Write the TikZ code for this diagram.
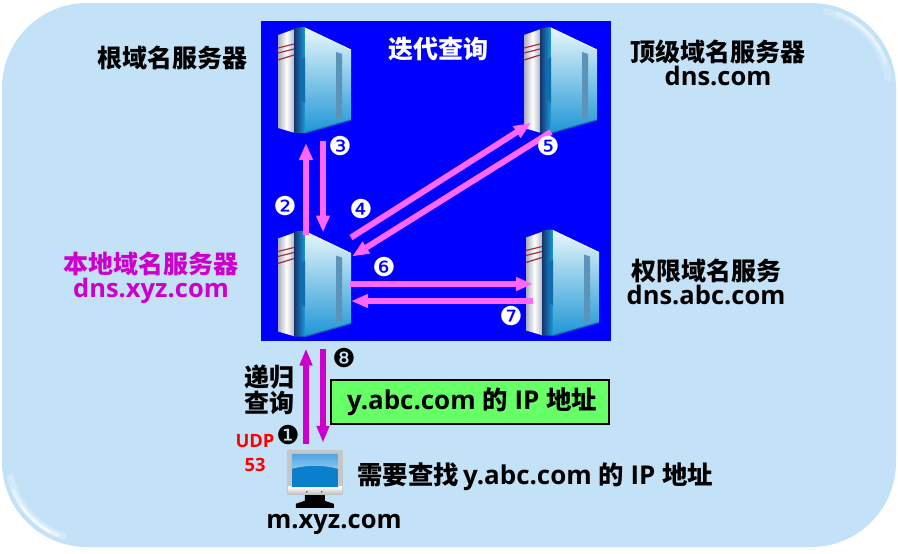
\documentclass[tikz,border=0pt]{standalone}
\usepackage{fontspec}
\setmainfont{Open Sans}[Scale=1.02]
\newfontfamily\cjk{Noto Sans CJK SC}
\newfontfamily\dingfont{DejaVu Sans}
\usetikzlibrary{arrows.meta,calc}
\definecolor{panel}{HTML}{C3E2F8}
\definecolor{pinkarrow}{HTML}{FF66FF}
\definecolor{purplearrow}{HTML}{CC00CC}
\definecolor{greenbox}{HTML}{66FF66}
\definecolor{srvA}{HTML}{E8F7FC}
\definecolor{srvB}{HTML}{8CD2EE}
\definecolor{srvC}{HTML}{1E96D6}
\definecolor{srvD}{HTML}{12336F}
\definecolor{srvE}{HTML}{1C9AD8}
\definecolor{srvF}{HTML}{0F6DAE}
\definecolor{srvG}{HTML}{5C93B8}
\definecolor{srvH}{HTML}{A8AEBC}
\definecolor{stripe}{HTML}{A52A3A}
\definecolor{scrA}{HTML}{8CC6EE}
\definecolor{scrB}{HTML}{0A7FCC}
\definecolor{scrC}{HTML}{4FA4E4}
\definecolor{bezel}{HTML}{C4C6C8}
\newcommand{\zh}[1]{{\cjk #1}}
\tikzset{
  x=1pt,y=-1pt,
  label/.style={font=\bfseries\fontsize{#1}{#1}\selectfont,inner sep=0pt,text=black,align=center},
  label/.default=25pt,
  srvbox/.style={minimum width=73pt,minimum height=107pt,inner sep=0pt,outer sep=0pt},
  pinkline/.style={draw=pinkarrow,line width=6pt,-{Triangle[length=17pt,width=13pt]}},
  purpleline/.style={draw=purplearrow,line width=6pt,-{Triangle[length=17pt,width=12pt]}},
  whitenum/.style={font=\dingfont\fontsize{26pt}{26pt}\selectfont,text=white,inner sep=0pt},
  blacknum/.style={font=\dingfont\fontsize{26pt}{26pt}\selectfont,text=black,inner sep=0pt},
  rim/.style={line width=#1,line cap=round},
  serverart/.pic={
    \shade[left color=srvH,right color=srvH,middle color=white] (0,8) -- (17,2) -- (17,106) -- (0,101) -- cycle;
    \shade[left color=srvD,right color=srvE] (16,1) -- (27,0) -- (27,106) -- (16,106) -- cycle;
    \shade[top color=srvA,middle color=srvB,bottom color=srvC] (27,1) -- (73,23) -- (73,93) -- (27,106) -- cycle;
    \draw[srvA,line width=1pt] (27,1) -- (73,23);
    \draw[srvF,line width=1.2pt] (73,93) -- (27,106);
    \fill[srvF] (27,30) -- (22,34) -- (22,72) -- (27,76) -- cycle;
    \fill[srvG] (58,25) -- (64,27) -- (64,91) -- (58,92) -- cycle;
    \draw[stripe,line width=1.2pt] (0,21) -- (16,17) (0,26) -- (16,22) (0,33) -- (16,28);
  },
  monitorart/.pic={
    \fill[black] (18,46) -- (38,46) -- (38,52) -- (47,55) -- (47,59) -- (9,59) -- (9,55) -- (18,52) -- cycle;
    \fill[bezel,rounded corners=1pt] (0,1) rectangle (56,46);
    \shade[top color=white,bottom color=gray!55] (1,38) rectangle (55,46);
    \fill[scrB] (5,5) rectangle (51,38);
    \shade[top color=scrC,bottom color=scrA] (5,5) -- (51,5) -- (51,20) .. controls (36,16) and (20,16) .. (5,20) -- cycle;
    \fill[gray!70!black] (20,43) circle (0.9) (35,43) circle (0.9);
  }
}
\begin{document}
\begin{tikzpicture}
\useasboundingbox (0,0) rectangle (898,554);
\fill[white] (0,0) rectangle (898,554);
% rounded panel
\fill[panel, rounded corners=85pt] (2,3) rectangle (896,547);
% soft highlights on two corners
\draw[rim=7pt,draw=panel!75!white] plot[domain=108:168,samples=30] ({88+79*cos(\x)},{461+79*sin(\x)});
\draw[rim=4pt,draw=panel!45!white] plot[domain=112:158,samples=30] ({88+80*cos(\x)},{461+80*sin(\x)});
\draw[rim=2pt,draw=panel!15!white] plot[domain=118:146,samples=20] ({88+80.5*cos(\x)},{461+80.5*sin(\x)});
\draw[rim=7pt,draw=panel!80!white] plot[domain=-78:-8,samples=30] ({810+79*cos(\x)},{89+79*sin(\x)});
\draw[rim=4pt,draw=panel!55!white] plot[domain=-70:-20,samples=30] ({810+80*cos(\x)},{89+80*sin(\x)});
\draw[rim=2pt,draw=panel!35!white] plot[domain=-62:-30,samples=20] ({810+80.5*cos(\x)},{89+80.5*sin(\x)});
% blue square
\fill[blue] (261,21) rectangle (611,341);

% servers
\node[srvbox] (root) at (314.5,80.5) {};
\node[srvbox] (tld) at (560.5,80.5) {};
\node[srvbox] (localns) at (314.5,284) {};
\node[srvbox] (auth) at (562.5,283) {};
\path (root.north west) pic {serverart};
\path (tld.north west) pic {serverart};
\path (localns.north west) pic {serverart};
\path (auth.north west) pic {serverart};

% client
\node[minimum width=56pt,minimum height=60pt,inner sep=0pt] (client) at (314.5,479) {};
\path ($(client.north west)+(0.5,0)$) pic {monitorart};

% pink connectors
\draw[pinkline] ([xshift=-8.5pt,yshift=-4pt]localns.north) -- ([xshift=-8.5pt,yshift=-9pt]root.south);
\draw[pinkline] ([xshift=8.5pt,yshift=-7pt]root.south) -- ([xshift=8.5pt,yshift=-2pt]localns.north);
\draw[pinkline] ($(localns.north east)+(0,7)$) -- ($(tld.south west)+(7,-11)$);
\draw[pinkline] ($(tld.south west)+(27,-2)$) -- ($(localns.north east)+(1,26)$);
\draw[pinkline] ($(localns.east)+(-1,0)$) -- ($(auth.west)+(7,1)$);
\draw[pinkline] ($(auth.west)+(7,18)$) -- ($(localns.east)+(0,17)$);
% purple connectors
\draw[purpleline] ([xshift=-8.5pt,yshift=5pt]client.north) -- ([xshift=-8.5pt,yshift=-11pt]localns.south);
\draw[purpleline] ([xshift=8.5pt,yshift=-11pt]localns.south) -- ([xshift=8.5pt,yshift=6pt]client.north);

% numbers
\node[whitenum] (n2) at (285,206) {❷};
\node[whitenum] (n3) at (340,146) {❸};
\node[whitenum] (n4) at (361,209) {❹};
\node[whitenum] (n5) at (548,146) {❺};
\node[whitenum] (n6) at (384,267) {❻};
\node[whitenum] (n7) at (511,316) {❼};
\node[blacknum] (n1) at (288,435) {❶};
\node[blacknum] (n8) at (344,358) {❽};

% labels
\node[label] (l1) at (172,58) {\zh{根域名服务器}};
\node[label] (l2) at (718,63) {\zh{顶级域名服务器}\\[-1pt]dns.com};
\node[label,text=white] (l3) at (438,49) {\zh{迭代查询}};
\node[label,text=purplearrow] (l4) at (151,278) {\zh{本地域名服务器}\\[-1pt]dns.xyz.com};
\node[label] (l5) at (706,282) {\zh{权限域名服务}\\[-1pt]dns.abc.com};
\node[label] (l6) at (269,390) {\zh{递归}\\[1pt]\zh{查询}};
\node[label=18pt,text=red] (l7) at (255,441) {UDP};
\node[label=18pt,text=red] (l8) at (255,465) {53};
\node[draw=black,line width=2.5pt,fill=greenbox,minimum width=278pt,minimum height=44pt,inner sep=0pt,outer sep=0pt] (answer) at (470,402) {};
\node[label=25.4pt] at ([xshift=2pt]answer.center) {y.abc.com \zh{的} IP \zh{地址}};
\node[label=25.4pt,anchor=west] (l9) at (357,477) {\zh{需要查找}\,y.abc.com \zh{的} IP \zh{地址}};
\node[label] (l10) at (334,524) {m.xyz.com};
\end{tikzpicture}
\end{document}
